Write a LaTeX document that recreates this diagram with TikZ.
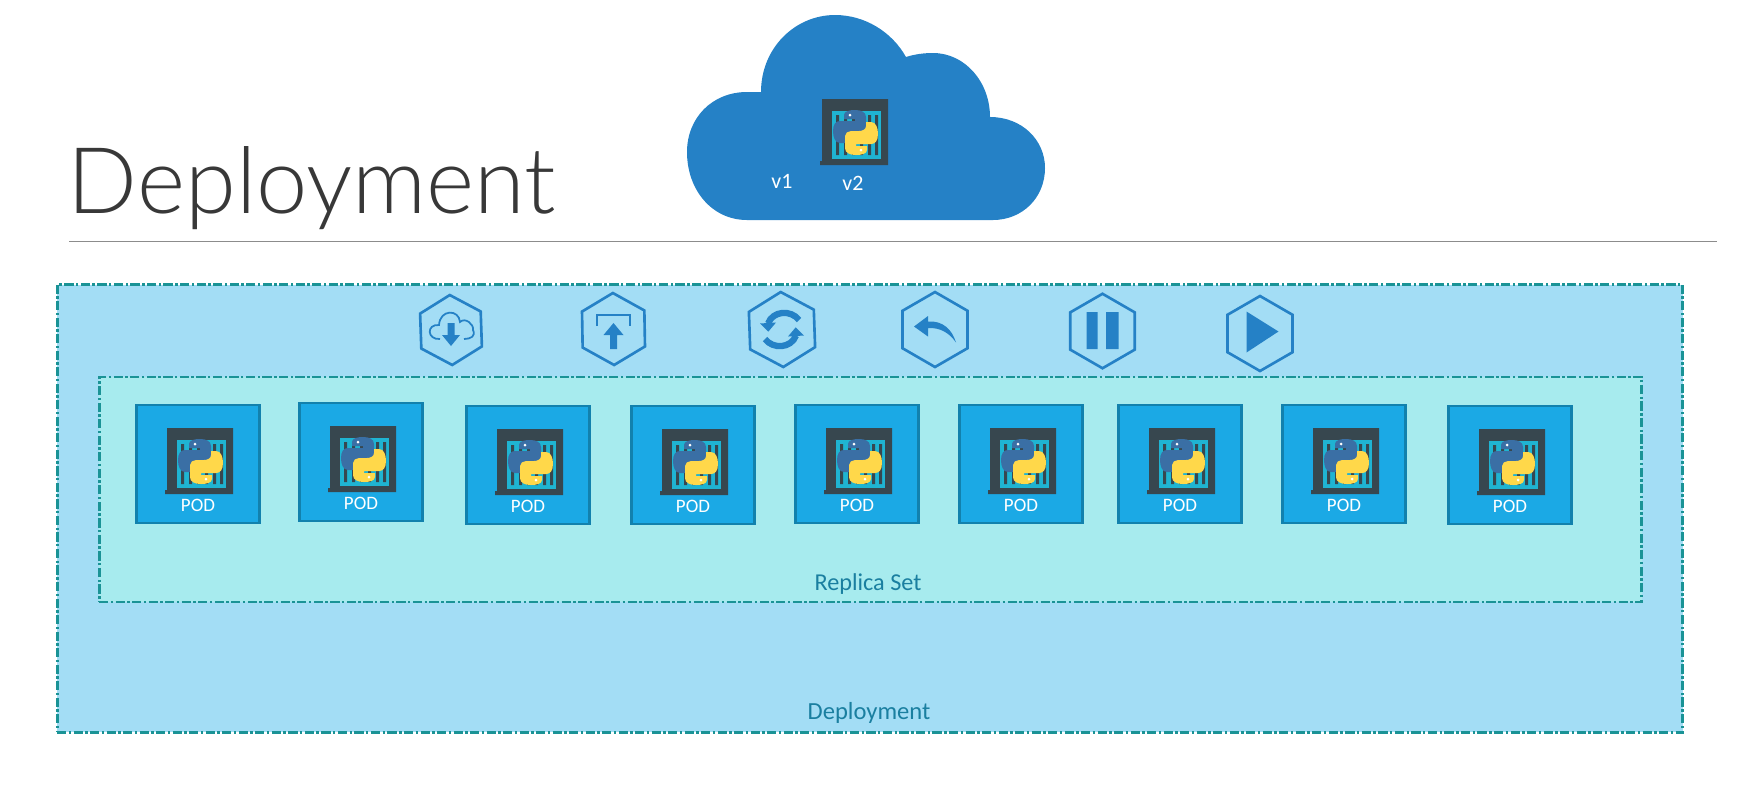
\documentclass[tikz,border=0pt]{standalone}
\usepackage{fontspec}
\setmainfont{Carlito}
\newfontfamily\lightfont{Lato Light}
\usepackage{tikz}
\usetikzlibrary{shapes.geometric}
\usepackage{xcolor}
\definecolor{cloudblue}{HTML}{2581C6}
\definecolor{depfill}{HTML}{A3DDF5}
\definecolor{repfill}{HTML}{A7EBEE}
\definecolor{dashteal}{HTML}{1A9396}
\definecolor{podfill}{HTML}{1BA9E5}
\definecolor{podedge}{HTML}{1281AD}
\definecolor{labelteal}{HTML}{1A7FA0}
\definecolor{icondark}{HTML}{37474F}
\definecolor{iconbar}{HTML}{1FB4D2}
\definecolor{pyblue}{HTML}{3A6FA5}
\definecolor{pyyellow}{HTML}{FFD84A}

\begin{document}
\begin{tikzpicture}[
        x=0.02cm, y=-0.02cm,
        groupbox/.style={draw=dashteal, line width=1.6pt, inner sep=0pt,
          dash pattern=on 5.2pt off 1.4pt on 1.4pt off 1.4pt},
        podbox/.style={rectangle, draw=podedge, fill=podfill, line width=1.2pt, inner sep=0pt,
          minimum width=2.46cm, minimum height=2.36cm},
        hexagon/.style={regular polygon, regular polygon sides=6, regular polygon rotate=30,
          draw=cloudblue, line width=1.5pt, inner sep=0pt},
        glyph/.style={fill=cloudblue, draw=none},
        pyicon/.pic={
          \fill[icondark] (-33,-33) -- (33,-33) -- (33,33) -- (-35,33) -- (-35,29) -- (-33,29) -- cycle;
          \fill[iconbar] (-23,-21) rectangle (26,27);
          \fill[icondark] (-19,-17) rectangle (-16,23) (-11,-17) rectangle (-8,23) (-3,-17) rectangle (0,23)
            (5,-17) rectangle (8,23) (13,-17) rectangle (16,23) (20,-17) rectangle (23,23);
          \fill[pyblue] (-11,-17) .. controls (-11,-21) and (-5,-22) .. (0,-22) .. controls (6,-22) and (11,-20) .. (11,-15)
            -- (11,-3) .. controls (11,0) and (8,2) .. (5,2) -- (-3,2) .. controls (-7,2) and (-10,4) .. (-10,7)
            -- (-10,11) -- (-15,11) .. controls (-20,11) and (-22,5) .. (-22,-1) .. controls (-22,-8) and (-19,-11) .. (-15,-11)
            -- (0,-11) -- (0,-13) -- (-11,-13) -- cycle;
          \fill[pyyellow, shift={(1,1)}, rotate=180] (-11,-17) .. controls (-11,-21) and (-5,-22) .. (0,-22) .. controls (6,-22) and (11,-20) .. (11,-15)
            -- (11,-3) .. controls (11,0) and (8,2) .. (5,2) -- (-3,2) .. controls (-7,2) and (-10,4) .. (-10,7)
            -- (-10,11) -- (-15,11) .. controls (-20,11) and (-22,5) .. (-22,-1) .. controls (-22,-8) and (-19,-11) .. (-15,-11)
            -- (0,-11) -- (0,-13) -- (-11,-13) -- cycle;
          \fill[white] (-5,-17) circle (1.5) (6,18) circle (1.5);
        },
        pod/.pic={
          \node[podbox] (-box) at (0,0) {};
          \pic at (2,-3) {pyicon};
          \node[text=white, font=\fontsize{10.8}{12}\selectfont] (-text) at (0,41) {POD};
        }
      ]
      \useasboundingbox (0,0) rectangle (1748,796);

      % header
      \node[anchor=base west, inner sep=0pt, text=black!78, font=\lightfont\fontsize{52.4}{60}\selectfont] (title) at (67.5,213) {Deployment};
      \coordinate (ruleL) at (69,241);
      \coordinate (ruleR) at (1717,241);
      \draw[black!45, line width=0.4pt] (ruleL) -- (ruleR);

      % cloud
      \fill[cloudblue] (747,220) .. controls (712,220) and (687,190) .. (687,152) .. controls (687,118) and (712,92) .. (747,92)
        -- (761,92) .. controls (761,48) and (795,15) .. (835,15) .. controls (865,15) and (892,32) .. (906,57)
        .. controls (915,54) and (925,53) .. (933,53) .. controls (965,53) and (990,82) .. (990,117)
        .. controls (1022,117) and (1045,140) .. (1045,168) .. controls (1045,198) and (1022,220) .. (993,220) -- cycle;
      \pic at (855,132) {pyicon};
      \node[text=white, font=\fontsize{12.5}{14}\selectfont] (v1) at (782,181) {v1};
      \node[text=white, font=\fontsize{12.5}{14}\selectfont] (v2) at (853,183) {v2};

      % nested boxes
      \node[groupbox, fill=depfill, minimum width=32.52cm, minimum height=8.96cm] (deployment) at (870,508.5) {};
      \node[groupbox, fill=repfill, minimum width=30.86cm, minimum height=4.5cm] (replica) at (870.5,489.5) {};
      \node[text=labelteal, font=\fontsize{14}{16}\selectfont] (deplabel) at (869,713) {Deployment};
      \node[text=labelteal, font=\fontsize{13.8}{16}\selectfont] (replabel) at (868,584) {Replica Set};

      % action icons
      \node[hexagon, rotate=2, minimum size=1.40cm] (hex1) at (451,330) {};
      \node[hexagon, rotate=1, minimum size=1.44cm] (hex2) at (613.5,329) {};
      \node[hexagon, rotate=2, minimum size=1.50cm] (hex3) at (782,329.5) {};
      \node[hexagon, minimum size=1.50cm] (hex4) at (935,329.5) {};
      \node[hexagon, minimum size=1.49cm] (hex5) at (1102.5,331) {};
      \node[hexagon, minimum size=1.50cm] (hex6) at (1260,333.5) {};

      \begin{scope}[shift={(hex1.center)}]
        \draw[cloudblue, line width=1pt] (-11,9) .. controls (-24,10) and (-25,-6) .. (-12,-5) .. controls (-11,-21) and (8,-21) .. (9,-8)
          .. controls (14,-13) and (23,-6) .. (22,0) .. controls (25,6) and (20,9) .. (13,9);
        \path[glyph] (-3.5,-7) -- (3.5,-7) -- (3.5,5) -- (9,5) -- (0,16) -- (-9,5) -- (-3.5,5) -- cycle;
      \end{scope}
      \begin{scope}[shift={(hex2.center)}]
        \draw[cloudblue, line width=1pt] (-16.5,-3) -- (-16.5,-14) -- (16.5,-14) -- (16.5,-3);
        \path[glyph] (0,-6) -- (10,6) -- (3.5,6) -- (3.5,20) -- (-3.5,20) -- (-3.5,6) -- (-10,6) -- cycle;
      \end{scope}
      \begin{scope}[shift={(hex3.center)}]
        \draw[cloudblue, line width=3.6pt] (17,-9.5) .. controls (9,-20) and (-9,-19) .. (-14,-6);
        \path[glyph] (-13.7,2.2) -- (-22,-6) -- (-6,-7) -- cycle;
        \draw[cloudblue, line width=3.6pt, rotate=180] (17,-9.5) .. controls (9,-20) and (-9,-19) .. (-14,-6);
        \path[glyph, rotate=180] (-13.7,2.2) -- (-22,-6) -- (-6,-7) -- cycle;
      \end{scope}
      \begin{scope}[shift={(hex4.center)}]
        \path[glyph] (-21,-3) -- (-7,-13.5) -- (-7,-8) .. controls (8,-9) and (17,0) .. (21,13)
          .. controls (14,3) and (5,-2) .. (-7,-1.5) -- (-7,7) -- cycle;
      \end{scope}
      \begin{scope}[shift={(hex5.center)}]
        \path[glyph] (-16,-19) rectangle (-5,18) (3.5,-19) rectangle (16,18);
      \end{scope}
      \begin{scope}[shift={(hex6.center)}]
        \path[glyph] (-13.5,-22) -- (-13.5,19) -- (18.5,-2) -- cycle;
      \end{scope}

      % pods
      \pic (pod1) at (198,464) {pod};
      \pic (pod2) at (361,462) {pod};
      \pic (pod3) at (528,465) {pod};
      \pic (pod4) at (693,465) {pod};
      \pic (pod5) at (857,464) {pod};
      \pic (pod6) at (1021,464) {pod};
      \pic (pod7) at (1180,464) {pod};
      \pic (pod8) at (1344,464) {pod};
      \pic (pod9) at (1510,465) {pod};
    \end{tikzpicture}
\end{document}
